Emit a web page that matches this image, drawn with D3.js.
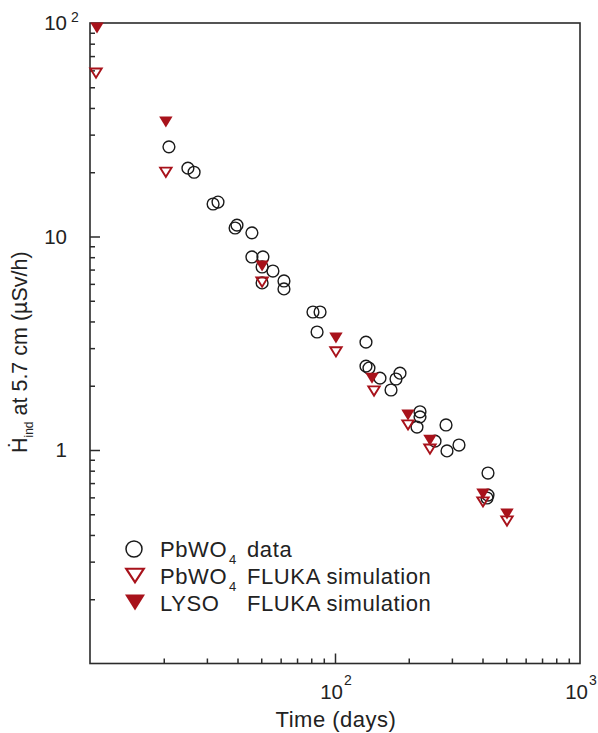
<!DOCTYPE html>
<html>
<head>
<meta charset="utf-8">
<script src="https://cdn.jsdelivr.net/npm/d3@7"></script>
<style>
  html, body { margin: 0; padding: 0; background: #fff; }
  svg text { font-family: "Liberation Sans", Arial, Helvetica, sans-serif; fill: #222; }
</style>
</head>
<body>
<svg id="chart" width="598" height="733"></svg>
<script>
// ---------- data ----------
const dataTime = [21.0, 25.1, 26.6, 31.8, 33.3, 39.1, 39.8, 45.8, 45.8, 50.8, 50.4, 55.8, 50.4, 61.9, 61.9,
                  81.3, 86.9, 84.5, 133.8, 133.8, 137.6, 152.6, 184.2, 177.4, 169.3, 222.3, 222.3, 216.1,
                  283.9, 256, 286.5, 320.7, 421.2, 421.2, 417.3];
const dataDose = [26.3, 20.9, 20.0, 14.2, 14.5, 10.96, 11.3, 10.4, 8.02, 8.02, 7.20, 6.89, 6.06, 6.19, 5.68,
                  4.43, 4.43, 3.57, 3.20, 2.47, 2.42, 2.17, 2.29, 2.15, 1.91, 1.51, 1.43, 1.28,
                  1.31, 1.10, 0.99, 1.055, 0.78, 0.615, 0.596];

const pbwoSimTime = [10.58, 20.4, 50.4, 100.9, 144.3, 198.6, 244.1, 401.8, 503.5];
const pbwoSimDose = [58.3, 20.0, 6.12, 2.88, 1.89, 1.31, 1.01, 0.571, 0.465];

const lysoSimTime = [10.68, 20.4, 50.4, 100.9, 141.6, 198.6, 244.1, 401.8, 503.5];
const lysoSimDose = [94.7, 34.4, 7.28, 3.35, 2.17, 1.46, 1.11, 0.622, 0.501];

const xMajorTicks = [100, 1000];
const xMajorLabels = [["10", "2"], ["10", "3"]];
const yMajorTicks = [100, 10, 1];
const yMajorLabels = [["10", "2"], ["10", ""], ["1", ""]];

const legendNames = [["PbWO", "4", "data"], ["PbWO", "4", "FLUKA simulation"], ["LYSO", "", "FLUKA simulation"]];

// ---------- layout ----------
const svg = d3.select("#chart");
const L = 90, T = 23, R = 580, B = 663.5;
const red = "#a8121b";
const axisCol = "#2b2b2b";

const x = d3.scaleLog().domain([10, 1000]).range([L, R]);
const y = d3.scaleLog().domain([0.1, 100]).range([B, T]);

function minorTicks(lo, hi) {
  const out = [];
  for (let d = lo; d < hi; d *= 10)
    for (let k = 2; k <= 9; k++) out.push(d * k);
  return out;
}

// minor ticks
const gx = svg.append("g").attr("transform", `translate(0,${B})`);
gx.call(d3.axisBottom(x).tickValues(minorTicks(10, 1000)).tickSize(-5).tickFormat(""));
const gxM = svg.append("g").attr("transform", `translate(0,${B})`);
gxM.call(d3.axisBottom(x).tickValues([100]).tickSize(-10).tickFormat(""));

const gy = svg.append("g").attr("transform", `translate(${L},0)`);
gy.call(d3.axisLeft(y).tickValues(minorTicks(0.1, 100)).tickSize(-5).tickFormat(""));
const gyM = svg.append("g").attr("transform", `translate(${L},0)`);
gyM.call(d3.axisLeft(y).tickValues([10, 1]).tickSize(-10).tickFormat(""));

svg.selectAll(".domain").remove();
svg.selectAll(".tick line").attr("stroke", axisCol).attr("stroke-width", 1.5);

// frame
svg.append("rect").attr("x", L).attr("y", T).attr("width", R - L).attr("height", B - T)
  .attr("fill", "none").attr("stroke", axisCol).attr("stroke-width", 1.6);

// y tick labels
yMajorTicks.forEach((v, i) => {
  svg.append("text").attr("x", 67).attr("y", y(v) + 7)
    .attr("text-anchor", "end").attr("font-size", 20.5).text(yMajorLabels[i][0]);
  if (yMajorLabels[i][1]) {
    svg.append("text").attr("x", 71).attr("y", y(v) - 1)
      .attr("font-size", 14).text(yMajorLabels[i][1]);
  }
});

// x tick labels
xMajorTicks.forEach((v, i) => {
  const g = svg.append("text").attr("x", x(v) + 1).attr("y", 699)
    .attr("text-anchor", "middle").attr("font-size", 20.5);
  g.append("tspan").text(xMajorLabels[i][0]);
  g.append("tspan").attr("font-size", 14).attr("dy", -14).attr("dx", 1).text(xMajorLabels[i][1]);
});

// axis titles
svg.append("text").attr("x", 336).attr("y", 727).attr("text-anchor", "middle")
  .attr("font-size", 22).attr("letter-spacing", 0.5).text("Time (days)");

const yt = svg.append("text").attr("transform", "translate(27,453) rotate(-90)")
  .attr("font-size", 21.5);
yt.append("tspan").text("\u1E22");
yt.append("tspan").attr("font-size", 12).attr("dy", 6).text("ind");
yt.append("tspan").attr("dy", -6).text(" at 5.7 cm (\u00B5Sv/h)");

// markers
function triPath(w, h) {
  return `M${-w / 2},${-h / 2}L${w / 2},${-h / 2}L0,${h / 2}Z`;
}

svg.append("g").selectAll("circle").data(d3.zip(dataTime, dataDose)).join("circle")
  .attr("cx", d => x(d[0])).attr("cy", d => y(d[1])).attr("r", 5.9)
  .attr("fill", "none").attr("stroke", "#1a1a1a").attr("stroke-width", 1.4);

svg.append("g").selectAll("path").data(d3.zip(lysoSimTime, lysoSimDose)).join("path")
  .attr("transform", d => `translate(${x(d[0])},${y(d[1])})`)
  .attr("d", triPath(13.4, 11)).attr("fill", red);

svg.append("g").selectAll("path").data(d3.zip(pbwoSimTime, pbwoSimDose)).join("path")
  .attr("transform", d => `translate(${x(d[0])},${y(d[1])})`)
  .attr("d", triPath(11.4, 9.2)).attr("fill", "none").attr("stroke", red).attr("stroke-width", 1.9);

// legend
const lgY = [549, 575.5, 602.5];
const lgBase = [557, 584, 611];
svg.append("circle").attr("cx", 134).attr("cy", lgY[0]).attr("r", 8)
  .attr("fill", "none").attr("stroke", "#1a1a1a").attr("stroke-width", 1.5);
svg.append("path").attr("transform", `translate(135,${lgY[1]})`)
  .attr("d", triPath(17.5, 13.5)).attr("fill", "none").attr("stroke", red).attr("stroke-width", 2.2);
svg.append("path").attr("transform", `translate(135,${lgY[2]})`)
  .attr("d", triPath(20, 16)).attr("fill", red);

legendNames.forEach((n, i) => {
  svg.append("text").attr("x", 160).attr("y", lgBase[i]).attr("font-size", 22)
    .attr("letter-spacing", 0.6).text(n[0]);
  if (n[1]) svg.append("text").attr("x", 229).attr("y", lgBase[i] + 7).attr("font-size", 13).text(n[1]);
  svg.append("text").attr("x", 247).attr("y", lgBase[i]).attr("font-size", 22)
    .attr("letter-spacing", 0.6).text(n[2]);
});
</script>
</body>
</html>
